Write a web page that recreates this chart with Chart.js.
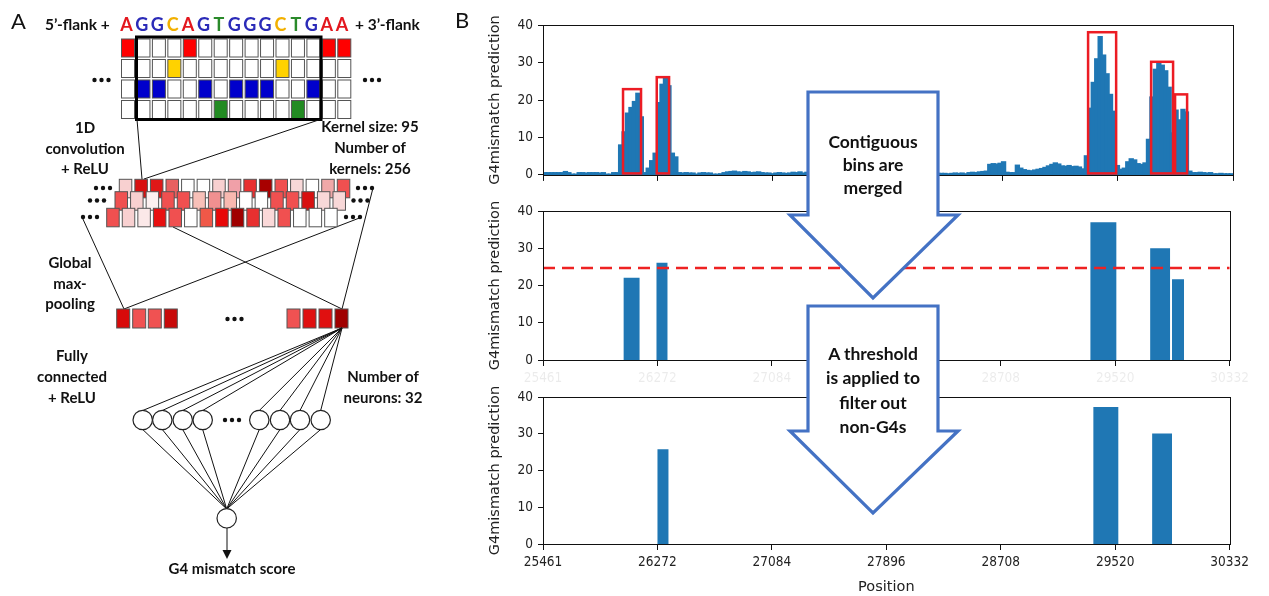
<!DOCTYPE html>
<html>
<head>
<meta charset="utf-8">
<script src="https://cdn.jsdelivr.net/npm/chart.js@4.4.1/dist/chart.umd.min.js"></script>
<style>
body{margin:0;background:#fff;width:1269px;height:596px;overflow:hidden;position:relative}
canvas{position:absolute;left:480px}
#overlay{position:absolute;left:0;top:0;font-family:Lato,"Open Sans",sans-serif}
</style>
</head>
<body>
<canvas id="topChart" width="773" height="176" style="top:12px"></canvas>
<canvas id="midChart" width="773" height="184" style="top:198px"></canvas>
<canvas id="lowChart" width="773" height="214" style="top:384px"></canvas>
<svg id="overlay" width="1269" height="596" xmlns="http://www.w3.org/2000/svg"></svg>
<script>
// ---- data (panel B) ----
const xTicks=[25461,26272,27084,27896,28708,29520,30332];
const yTicks=[0,10,20,30,40];
const binStart=25461, binWidth=24.355;
const binValues=[
0.6,0.6,0.6,0.6,0.6,0.6,0.9,0.6,0.2,0.2,
0.6,0.6,0.5,0.6,0.6,0.6,0.5,0.6,0.2,0.2,
0.6,0.6,8,11.5,16.5,18,19.6,21.8,15.5,0.6,
1.8,3.8,5.8,19.3,24.2,25.8,23.8,5.8,4.8,0.6,
0.5,0.6,0.5,0.5,0.2,0.5,0.6,0.5,0.5,0.2,
0.2,0.3,0.6,0.8,0.9,1.0,0.8,0.7,0.9,0.8,
0.6,0.7,0.8,0.6,0.5,0.5,0.3,0.5,0.6,0.5,
0.4,0.5,0.7,0.6,0.8,0.5,0.7,0.5,0.6,0.5,
0.4,0.5,0.5,0.6,0.5,0.4,0.5,0.5,0.6,0.5,
0.5,0.4,0.5,0.6,0.5,0.5,0.4,0.5,0.5,0.5,
0.5,0.4,0.5,0.6,0.5,0.5,0.4,0.5,0.5,0.6,
0.5,0.4,0.5,0.5,0.4,0.4,0.4,0.3,0.4,0.5,
0.4,0.5,0.3,0.6,0.7,0.6,0.8,0.9,1.0,2.8,
3.0,2.9,3.1,3.5,0.7,0.6,0.6,2.6,1.8,1.4,
1.2,1.1,1.3,1.5,1.7,2.0,2.4,2.8,3.2,2.9,
2.4,2.3,2.5,2.2,2.3,2.1,1.6,5.1,17.8,24.7,
31,36.9,32,27,21.5,17,2.5,1.5,1.8,3.5,
4.3,4.0,3.0,2.8,3.2,9.5,20.8,28.2,29.8,29.3,
27.8,23.4,11.2,17.3,14.7,17.5,16.8,1.0,0.6,0.6,
0.7,0.6,0.5,0.6,0.3,0.3,0.4,0.3,0.3,0.3
];
const boxStarts=[26026,26264,29309,29754,29923];
const boxEnds=[26153,26351,29507,29909,30008];
const boxTops=[22.9,26.1,38.1,30.2,21.5];
const boxBottom=0.4;
const mergedStarts=[26033,26266,29344,29768,29923];
const mergedEnds=[26146,26344,29528,29909,30008];
const mergedValues=[22.1,26.1,37.0,30.0,21.7];
const threshold=24.7;
const keptStarts=[26273,29365,29782];
const keptEnds=[26351,29542,29923];
const keptValues=[25.8,37.3,30.1];

const barBlue='#1f77b4';
const tickFont="'DejaVu Sans Condensed','Liberation Sans',sans-serif";

// draws the top and right spines too
const frame={id:'frame',afterDraw(chart){
  const {ctx,chartArea:a}=chart;
  ctx.save();ctx.strokeStyle='#111';ctx.lineWidth=1;
  ctx.strokeRect(Math.round(a.left)+0.5,Math.round(a.top)+0.5,Math.round(a.right-a.left),Math.round(a.bottom-a.top));
  ctx.restore();
}};

const redBoxes={id:'redBoxes',afterDatasetsDraw(chart){
  const {ctx,scales:{x,y}}=chart;
  ctx.save();ctx.strokeStyle='#ec1c24';ctx.lineWidth=2.5;
  boxStarts.forEach((s,i)=>{
    const l=x.getPixelForValue(s),r=x.getPixelForValue(boxEnds[i]);
    const t=y.getPixelForValue(boxTops[i]),b=y.getPixelForValue(boxBottom);
    ctx.strokeRect(l,t,r-l,b-t);
  });
  ctx.restore();
}};

function xAxis(height,labels,labelColor,title){
  return {
    type:'linear',min:25461,max:30332,offset:false,
    afterBuildTicks:s=>{s.ticks=xTicks.map(v=>({value:v}));},
    afterFit:s=>{s.height=height;},
    grid:{drawOnChartArea:false,drawTicks:true,tickLength:6,color:'#111',offset:false},
    border:{color:'#111'},
    ticks:{display:labels,color:labelColor,font:{family:tickFont,size:13.5},padding:4,maxRotation:0,autoSkip:false,callback:v=>String(v)},
    title:{display:!!title,text:title||'',color:'#222',font:{family:'DejaVu Sans',size:14.5},padding:{top:2,bottom:2}}
  };
}
function yAxis(){
  return {
    min:0,max:40,
    afterBuildTicks:s=>{s.ticks=yTicks.map(v=>({value:v}));},
    afterFit:s=>{s.width=63;},
    grid:{drawOnChartArea:false,tickLength:5,color:'#111'},
    border:{color:'#111'},
    ticks:{color:'#222',font:{family:tickFont,size:13.5},padding:5},
    title:{display:true,text:'G4mismatch prediction',color:'#222',font:{family:'DejaVu Sans',size:14.5},padding:{top:7,bottom:0}}
  };
}
function baseOpts(xa){
  return {
    responsive:false,animation:false,
    layout:{padding:{top:10,right:20,left:0,bottom:0}},
    plugins:{legend:{display:false},tooltip:{enabled:false}},
    scales:{x:xa,y:yAxis()}
  };
}
function outline(starts,ends,vals){
  const pts=[{x:25461,y:0}];
  starts.forEach((s,i)=>{pts.push({x:s,y:0},{x:s,y:vals[i]},{x:ends[i],y:vals[i]},{x:ends[i],y:0});});
  pts.push({x:30332,y:0});
  return pts;
}

// top: binned predictions
new Chart(document.getElementById('topChart'),{
  type:'bar',
  data:{datasets:[{
    data:binValues.map((v,i)=>({x:binStart+binWidth*(i+0.5),y:v})),
    backgroundColor:barBlue,borderWidth:0,inflateAmount:0.6,barPercentage:1.2,categoryPercentage:1
  }]},
  options:baseOpts(xAxis(13,false,'#222')),
  plugins:[redBoxes,frame]
});

// middle: merged bins + threshold
new Chart(document.getElementById('midChart'),{
  type:'line',
  data:{datasets:[
    {data:[{x:25461,y:threshold},{x:30332,y:threshold}],borderColor:'#ee2222',borderWidth:2.5,borderDash:[12,7],pointRadius:0,fill:false,order:0},
    {data:outline(mergedStarts,mergedEnds,mergedValues),borderWidth:0,borderColor:'rgba(0,0,0,0)',backgroundColor:barBlue,fill:'origin',pointRadius:0,tension:0,order:1}
  ]},
  options:baseOpts(xAxis(22,true,'rgba(0,0,0,0.08)')),
  plugins:[frame]
});

// bottom: kept after threshold
new Chart(document.getElementById('lowChart'),{
  type:'line',
  data:{datasets:[
    {data:outline(keptStarts,keptEnds,keptValues),borderWidth:0,borderColor:'rgba(0,0,0,0)',backgroundColor:barBlue,fill:'origin',pointRadius:0,tension:0}
  ]},
  options:baseOpts(xAxis(54,true,'#222','Position')),
  plugins:[frame]
});

// ---- panel A diagram + arrows ----
const seqLetters=['A','G','G','C','A','G','T','G','G','G','C','T','G','A','A'];
const baseRows=['A','C','G','T'];
const baseColors={A:'#e3171e',C:'#f2b000',G:'#2b2bb8',T:'#2a8a2a'};
const cellColors={A:'#ff0000',C:'#ffd200',G:'#0000cc',T:'#228b22'};
const convShades=[
  ['#f8d0d0','#d81010','#e01818','#e86060','#ffffff','#ffffff','#f8d0d0','#f0a0a8','#e83030','#a80000','#f05050','#f8d8d8','#ffffff','#f0a8a8','#f05050'],
  ['#f05050','#f8d0d0','#fdf0f0','#f05050','#f05050','#f8c0b8','#f09090','#f8b8b0','#ffffff','#ffffff','#f05050','#f05050','#d81010','#f8d8d8','#f8d8d8'],
  ['#f05050','#f8d0d0','#fbe8e8','#e81010','#f05050','#ffffff','#f05848','#e80808','#a00000','#e83030','#fad8d8','#f05050','#ffffff','#ffffff','#ffffff']
];
const poolLeft=['#d80a0a','#f05252','#f05252','#c80a0a'];
const poolRight=['#f05252','#e01010','#e01010','#a00000'];

const parts=[];
const R=(x,y,w,h,f,st='#555',sw=1)=>parts.push(`<rect x="${x}" y="${y}" width="${w}" height="${h}" fill="${f}" stroke="${st}" stroke-width="${sw}"/>`);
const L=(x1,y1,x2,y2,sw=1)=>parts.push(`<line x1="${x1}" y1="${y1}" x2="${x2}" y2="${y2}" stroke="#111" stroke-width="${sw}"/>`);
const T=(x,y,t,size=15,fill='#111',weight=700,anchor='middle')=>parts.push(`<text x="${x}" y="${y}" font-size="${size}" fill="${fill}" font-weight="${weight}" text-anchor="${anchor}" dominant-baseline="central">${t}</text>`);
const D=(cx,cy)=>{for(const d of [-7,0,7])parts.push(`<circle cx="${cx+d}" cy="${cy}" r="2.2" fill="#111"/>`);};
const C=(cx,cy)=>parts.push(`<circle cx="${cx}" cy="${cy}" r="9.7" fill="#fff" stroke="#222" stroke-width="1.2"/>`);

T(18.5,20,'A',22,'#111',400);
T(462,19,'B',22,'#111',400);
T(45,24,'5’-flank +',15.5,'#111',700,'start');
seqLetters.forEach((b,i)=>T(126.5+15.4*i,24,b,18,baseColors[b]));
T(355,24,'+ 3’-flank',15.5,'#111',700,'start');

for(let r=0;r<4;r++)for(let c=0;c<15;c++){
  R(121.5+15.45*c,39+20.5*r,13,18,seqLetters[c]===baseRows[r]?cellColors[baseRows[r]]:'#fff');
}
R(136.5,37,184.5,82.5,'none','#000',3);
D(101.5,80);D(372,80);

L(137,119.5,142,179);L(320,119.5,144,179);
L(82,217,124,309);L(362,217,124,309);L(173,227,342,309);L(373,188,342,309);

const convPos=[[119.3,179.3],[115,191.7],[106.7,208.3]];
convPos.forEach(([x0,y0],r)=>{convShades[r].forEach((col,c)=>R(x0+15.57*c,y0,12.5,18.5,col));});
D(103,188);D(365,188);D(97,200.5);D(360.5,200.5);D(90,217);D(353,217);

[116.7,132.7,148.3,164.3].forEach((x,i)=>R(x,309,13,19,poolLeft[i]));
[287,303,319,335].forEach((x,i)=>R(x,309,13,19,poolRight[i]));
D(234.5,319);

const neuronX=[142.7,162.3,182.7,202.7,259.3,280,300,320.7];
neuronX.forEach(cx=>{L(342,328,cx,410.5);L(cx,429.5,226.7,509);});
neuronX.forEach(cx=>C(cx,420));
D(232,420);
C(226.7,518.3);
L(227,528,227,553);
parts.push('<polygon points="222.5,550 231.5,550 227,559" fill="#111"/>');

T(85,127,'1D');T(85,148,'convolution');T(85,168,'+ ReLU');
T(370,126,'Kernel size: 95');T(370,147,'Number of');T(370,168,'kernels: 256');
T(70,262,'Global');T(70,283,'max-');T(70,303,'pooling');
T(72,355,'Fully');T(72,376,'connected');T(72,397,'+ ReLU');
T(383,376,'Number of');T(383,397,'neurons: 32');
T(232,568,'G4 mismatch score');

// process arrows
parts.push('<polygon points="808,92 938,92 938,215 958,215 873,298 790,215 808,215" fill="#fff" stroke="#4472c4" stroke-width="3.2"/>');
parts.push('<polygon points="808,306 938,306 938,431 958,431 873,513 790,431 808,431" fill="#fff" stroke="#4472c4" stroke-width="3.2"/>');
T(873,141,'Contiguous',17.5);T(873,164,'bins are',17.5);T(873,187,'merged',17.5);
T(873,353,'A threshold',17.5);T(873,377.5,'is applied to',17.5);T(873,402,'filter out',17.5);T(873,426,'non-G4s',17.5);

document.getElementById('overlay').innerHTML=parts.join('');
</script>
</body>
</html>
